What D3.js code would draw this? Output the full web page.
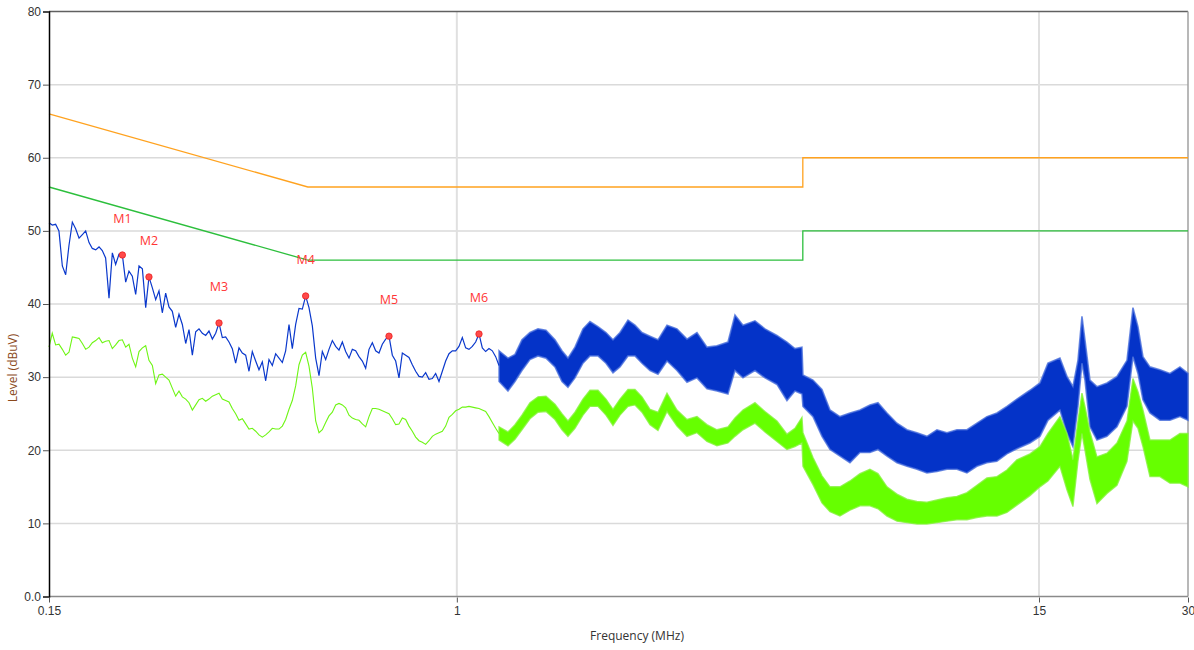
<!DOCTYPE html>
<html>
<head>
<meta charset="utf-8">
<script src="https://cdn.jsdelivr.net/npm/d3@7"></script>
<style>
  body { margin: 0; background: #fff; }
  svg { display: block; font-family: "Open Sans", "Noto Sans", sans-serif; }
</style>
</head>
<body>
<div id="chart"></div>
<script>
const width = 1194
const height = 650
const margin = { top: 11.5, right: 6, bottom: 53.5, left: 49 }

// ---- data ----
// low band sweep points, MHz
const freqLow = [
  0.1500, 0.1523, 0.1547, 0.1571, 0.1596, 0.1621, 0.1646, 0.1672, 0.1698, 0.1725,
  0.1752, 0.1779, 0.1807, 0.1835, 0.1864, 0.1893, 0.1922, 0.1952, 0.1983, 0.2014,
  0.2045, 0.2077, 0.2110, 0.2143, 0.2176, 0.2210, 0.2245, 0.2280, 0.2316, 0.2352,
  0.2388, 0.2426, 0.2464, 0.2502, 0.2541, 0.2581, 0.2621, 0.2662, 0.2704, 0.2746,
  0.2789, 0.2833, 0.2877, 0.2922, 0.2968, 0.3014, 0.3061, 0.3109, 0.3157, 0.3207,
  0.3257, 0.3308, 0.3359, 0.3412, 0.3465, 0.3519, 0.3574, 0.3630, 0.3687, 0.3745,
  0.3803, 0.3862, 0.3923, 0.3984, 0.4046, 0.4110, 0.4174, 0.4239, 0.4305, 0.4373,
  0.4441, 0.4510, 0.4581, 0.4652, 0.4725, 0.4799, 0.4874, 0.4950, 0.5027, 0.5106,
  0.5186, 0.5267, 0.5349, 0.5433, 0.5517, 0.5604, 0.5691, 0.5780, 0.5871, 0.5962,
  0.6056, 0.6150, 0.6246, 0.6344, 0.6443, 0.6544, 0.6646, 0.6750, 0.6855, 0.6962,
  0.7071, 0.7182, 0.7294, 0.7408, 0.7524, 0.7641, 0.7761, 0.7882, 0.8005, 0.8130,
  0.8257, 0.8386, 0.8517, 0.8650, 0.8785, 0.8923, 0.9062, 0.9204, 0.9348, 0.9494,
  0.9642, 0.9793, 0.9946, 1.0101, 1.0259, 1.0419, 1.0582, 1.0747, 1.0915, 1.1086,
  1.1259, 1.1435, 1.1614, 1.1795, 1.1980, 1.2167
]
// peak trace (blue), dBuV
const blueLow = [
  51.1, 50.8, 50.9, 50.0, 45.2, 44.0, 48.0, 51.2, 50.3, 49.0,
  49.5, 50.0, 48.4, 47.6, 47.4, 47.8, 47.3, 46.3, 40.8, 47.0,
  45.4, 46.8, 46.7, 43.0, 44.5, 43.8, 41.3, 45.2, 44.8, 39.5,
  43.7, 42.2, 40.6, 41.8, 38.8, 41.5, 39.6, 39.0, 36.8, 38.6,
  37.2, 34.6, 36.5, 33.0, 36.2, 36.6, 36.0, 35.7, 36.3, 35.2,
  36.0, 37.4, 35.4, 35.5, 34.8, 33.9, 31.9, 34.0, 33.3, 33.0,
  30.8, 33.5, 32.2, 31.0, 32.1, 29.5, 32.4, 31.6, 33.2, 32.6,
  32.0, 33.6, 37.2, 33.9, 37.2, 39.4, 39.3, 41.1, 39.5, 37.0,
  32.6, 30.2, 33.5, 32.4, 33.8, 35.0, 34.2, 33.7, 34.8, 33.5,
  32.6, 33.8, 33.6, 32.8, 32.2, 31.2, 33.8, 34.7, 33.6, 33.3,
  34.5, 35.2, 35.6, 33.0, 32.2, 29.9, 33.3, 33.0, 32.7, 31.7,
  30.8, 30.1, 30.0, 30.6, 29.7, 29.8, 30.5, 29.4, 30.8, 32.2,
  33.2, 33.6, 33.6, 34.2, 35.4, 34.0, 33.8, 34.2, 34.8, 35.9,
  34.0, 33.5, 33.9, 33.6, 32.8, 31.6
]
// average trace (green), dBuV
const greenLow = [
  34.1, 36.0, 34.4, 34.5, 33.8, 33.0, 33.4, 35.5, 35.4, 35.3,
  34.6, 33.8, 34.1, 34.7, 35.0, 35.4, 34.7, 34.9, 35.0, 33.9,
  34.4, 35.0, 35.1, 34.1, 34.5, 32.6, 31.4, 33.5, 34.0, 34.3,
  32.3, 31.6, 29.1, 30.3, 30.4, 30.0, 29.6, 28.5, 27.4, 28.1,
  27.3, 27.0, 26.5, 25.5, 26.2, 26.9, 27.1, 26.7, 27.0, 27.4,
  27.6, 27.8, 27.0, 26.8, 26.6, 25.7, 25.0, 24.1, 24.3, 23.6,
  22.9, 23.0, 22.6, 22.1, 21.8, 22.1, 22.5, 23.0, 22.9, 22.9,
  23.3, 24.2, 25.6, 26.8, 28.8, 31.7, 33.0, 33.4, 31.5, 28.5,
  24.0, 22.4, 22.8, 23.8, 24.7, 25.2, 26.2, 26.4, 26.2, 25.8,
  24.8, 24.4, 24.2, 24.1, 23.6, 23.2, 24.6, 25.7, 25.7, 25.6,
  25.4, 25.2, 25.0, 24.3, 23.5, 23.6, 24.4, 24.2, 23.3, 22.6,
  21.8, 21.3, 21.1, 20.8, 21.3, 21.9, 22.2, 22.4, 22.6, 23.3,
  24.5, 24.9, 25.4, 25.6, 25.9, 25.9, 26.0, 25.9, 25.8, 25.7,
  25.5, 25.3, 24.6, 23.8, 23.0, 22.3
]

// upper band: noise envelope per sweep point (min / max)
const freqBand = [
  1.217, 1.2685, 1.3105, 1.3538, 1.4052, 1.4586, 1.5139, 1.5786, 1.6308, 1.6769,
  1.7325, 1.7981, 1.8578, 1.9282, 2.0013, 2.0676, 2.1361, 2.2170, 2.2904, 2.3662,
  2.4561, 2.5492, 2.6581, 2.7846, 2.9171, 3.0559, 3.2013, 3.3536, 3.5298, 3.6467,
  3.7851, 4.0023, 4.1928, 4.4335, 4.6445, 4.8205, 4.9801, 5.0034, 5.2423, 5.4660,
  5.6738, 5.9429, 6.2257, 6.5219, 6.8322, 7.0929, 7.3960, 7.7479, 8.1166, 8.5028,
  8.9074, 9.3312, 9.7753, 10.240, 10.728, 11.238, 11.773, 12.333, 12.920, 13.535,
  14.381, 15.066, 15.637, 16.535, 17.083, 17.566, 17.981, 18.319, 18.576, 19.013,
  19.642, 20.578, 21.558, 22.584, 23.223, 23.769, 24.328, 25.133, 26.329, 27.582,
  28.895, 30.0
]
const blueHi = [
  33.6, 32.6, 33.1, 35.1, 36.1, 36.6, 36.4, 35.1, 33.6, 32.6,
  34.1, 36.6, 37.6, 36.9, 36.1, 35.1, 36.1, 37.8, 37.1, 36.1,
  35.6, 35.1, 37.1, 36.6, 35.2, 36.1, 34.1, 34.3, 34.8, 38.5,
  37.1, 37.7, 36.6, 35.7, 34.8, 33.9, 34.1, 30.3, 29.6, 28.3,
  25.5, 24.6, 25.1, 25.5, 26.2, 26.5, 25.1, 23.7, 22.8, 22.4,
  21.9, 22.8, 22.4, 22.8, 22.8, 23.7, 24.6, 25.1, 26, 27,
  28.2, 29.2, 31.9, 32.6, 30.1, 28.7, 32.3, 38.3, 35.1, 29.6,
  28.7, 29.2, 30.1, 32.3, 39.5, 36.9, 32.8, 31.4, 31, 30.5,
  31.4, 30.5
]
const blueLo = [
  29.4, 28.1, 29.4, 30.9, 32.4, 32.9, 32.6, 31.4, 29.4, 28.6,
  29.9, 31.9, 32.9, 32.9, 31.9, 30.6, 31.4, 32.9, 32.9, 31.9,
  30.9, 30.4, 32.2, 30.9, 29.3, 29.9, 28.4, 28.1, 27.7, 30.9,
  29.9, 30.9, 29.9, 29.0, 26.8, 28.1, 27.7, 26, 24.6, 21.9,
  20.1, 19.2, 18.3, 19.7, 19.7, 20.1, 19.2, 18.3, 17.8, 17.4,
  16.9, 17.1, 17.4, 17.4, 16.9, 17.8, 18.3, 18.5, 19.5, 20.2,
  21, 21.9, 24.1, 25.5, 22.3, 20.5, 26, 31.9, 29.6, 23.2,
  21.4, 21.9, 23.2, 26, 32.8, 30.5, 26.9, 25.1, 24.1, 24.1,
  24.6, 24.1
]
const greenHi = [
  23.2, 22.5, 23.5, 24.8, 26.5, 27.3, 27.4, 26.3, 25, 24,
  25.2, 27, 28.2, 28.2, 27, 25.6, 27, 28.3, 28.3, 27.3,
  25.6, 25.2, 27.8, 25.5, 24.2, 24.6, 23.5, 22.8, 23.2, 24.4,
  25.5, 26.5, 25.3, 24, 22.2, 23, 24.5, 22.4, 19, 16.5,
  15, 15, 15.8, 16.8, 17.4, 16.8, 15, 14, 13.3, 13,
  12.9, 13.2, 13.5, 13.7, 14.2, 15.2, 16.2, 16.4, 17.3, 18.7,
  19.5, 20.5, 22.3, 24.6, 22.3, 18.7, 24, 27.8, 26, 22.5,
  19.1, 19.6, 21, 24, 29.8, 28, 25.5, 21.4, 21.4, 21.4,
  22.3, 22.3
]
const greenLo = [
  21.4, 20.6, 21.5, 22.8, 24.3, 25.2, 25.3, 24.2, 22.8, 21.9,
  23, 24.8, 26, 26, 24.8, 23.4, 24.8, 26, 26.2, 25.2,
  23.5, 22.7, 25.3, 23.3, 21.9, 22.4, 21.2, 20.6, 21, 21.9,
  22.8, 23.7, 22.5, 21.2, 20.1, 20.5, 21, 17.8, 15.3, 12.8,
  11.6, 11, 11.8, 12.4, 12.4, 12, 11, 10.3, 10.1, 9.9,
  9.9, 10.1, 10.3, 10.5, 10.5, 10.8, 11, 11, 11.5, 12.5,
  13.8, 15, 15.8, 17.8, 14.6, 12.3, 18.5, 22.3, 20, 16,
  12.7, 14.1, 15.2, 18.5, 24, 23, 20.5, 16.4, 16.4, 15.5,
  15.5, 15
]

// limit lines (QP orange, AV green)
const limitFreq = [0.15, 0.5, 5, 5, 30]
const limitQP = [66, 56, 56, 60, 60]
const limitAV = [56, 46, 46, 50, 50]

// markers
const markerNames = ["M1", "M2", "M3", "M4", "M5", "M6"]
const markerFreq = [0.2110, 0.2388, 0.3308, 0.4950, 0.7294, 1.1086]
const markerLevel = [46.7, 43.7, 37.4, 41.1, 35.6, 35.9]

const xTicks = [0.15, 1, 15, 30]
const yTicks = [0, 10, 20, 30, 40, 50, 60, 70, 80]

// ---- svg ----
const svg = d3.select("#chart").append("svg")
  .attr("width", width)
  .attr("height", height)

const x = d3.scaleLog().domain([0.15, 30]).range([margin.left, width - margin.right])
const y = d3.scaleLinear().domain([0, 80]).range([height - margin.bottom, margin.top])

// grid
svg.append("g").selectAll("line").data(yTicks.filter(d => d > 0 && d < 80))
  .enter().append("line")
    .attr("x1", x(0.15)).attr("x2", x(30))
    .attr("y1", d => y(d)).attr("y2", d => y(d))
    .attr("stroke", "#dadada").attr("stroke-width", 1.5)

svg.append("g").selectAll("line").data([1, 15])
  .enter().append("line")
    .attr("x1", d => x(d)).attr("x2", d => x(d))
    .attr("y1", y(80)).attr("y2", y(0))
    .attr("stroke", "#e0e0e0").attr("stroke-width", 2)

// frame
svg.append("line").attr("x1", x(0.15)).attr("x2", x(30)).attr("y1", y(80)).attr("y2", y(80))
  .attr("stroke", "#606060").attr("stroke-width", 1.5)
svg.append("line").attr("x1", x(30)).attr("x2", x(30)).attr("y1", y(80)).attr("y2", y(0))
  .attr("stroke", "#a0a0a0").attr("stroke-width", 1.5)
svg.append("line").attr("x1", x(0.15)).attr("x2", x(30)).attr("y1", y(0)).attr("y2", y(0))
  .attr("stroke", "#8a8a8a").attr("stroke-width", 1.5)

// traces
const plot = svg.append("g")
const lowBlue = freqLow.map((f, i) => ({ f, v: blueLow[i] }))
const lowGreen = freqLow.map((f, i) => ({ f, v: greenLow[i] }))
const bandBlue = freqBand.map((f, i) => ({ f, lo: blueLo[i], hi: blueHi[i] }))
const bandGreen = freqBand.map((f, i) => ({ f, lo: greenLo[i], hi: greenHi[i] }))

const line = d3.line().x(d => x(d.f)).y(d => y(d.v))
const area = d3.area().x(d => x(d.f)).y0(d => y(d.lo)).y1(d => y(d.hi))

plot.append("path").datum(bandBlue).attr("d", area)
  .attr("fill", "#0433c8").attr("stroke", "#4a6fdc").attr("stroke-opacity", 0.8).attr("stroke-width", 1.6)
plot.append("path").datum(lowBlue).attr("d", line)
  .attr("fill", "none").attr("stroke", "#0a38cc").attr("stroke-width", 1.2)

plot.append("path").datum(bandGreen).attr("d", area)
  .attr("fill", "#66ff00").attr("stroke", "#86f23c").attr("stroke-opacity", 0.8).attr("stroke-width", 1.4)
plot.append("path").datum(lowGreen).attr("d", line)
  .attr("fill", "none").attr("stroke", "#6ef514").attr("stroke-width", 1.1)

// limits
const limLine = d3.line().x(d => x(d.f)).y(d => y(d.v))
plot.append("path").datum(limitFreq.map((f, i) => ({ f, v: limitQP[i] })))
  .attr("d", limLine).attr("fill", "none").attr("stroke", "#ffa21f").attr("stroke-width", 1.3)
plot.append("path").datum(limitFreq.map((f, i) => ({ f, v: limitAV[i] })))
  .attr("d", limLine).attr("fill", "none").attr("stroke", "#2cbf3c").attr("stroke-width", 1.3)

// markers
const mk = svg.append("g").selectAll("g").data(markerNames)
  .enter().append("g")
mk.append("circle")
  .attr("cx", (d, i) => x(markerFreq[i]))
  .attr("cy", (d, i) => y(markerLevel[i]))
  .attr("r", 3.2)
  .attr("fill", "#ff4a4a").attr("stroke", "#e82020").attr("stroke-width", 0.8)
mk.append("text")
  .attr("x", (d, i) => x(markerFreq[i]))
  .attr("y", (d, i) => y(markerLevel[i] + 5))
  .attr("text-anchor", "middle")
  .attr("dy", "0.35em")
  .attr("fill", "#ff3535")
  .attr("font-size", 12.5)
  .text(d => d)

// axes
const yAxis = d3.axisLeft(y).tickValues(yTicks).tickSize(6)
  .tickFormat(d => d === 0 ? "0.0" : d)
const yAxisGroup = svg.append("g").attr("transform", `translate(${margin.left}, 0)`).call(yAxis)
yAxisGroup.select(".domain").attr("stroke", "#000").attr("stroke-width", 1.5)
yAxisGroup.selectAll(".tick line").attr("stroke", "#555")
yAxisGroup.selectAll(".tick text").attr("fill", "#333").attr("font-size", 12).attr("x", -8)

const xAxis = d3.axisBottom(x).tickValues(xTicks).tickSize(5).tickFormat(d => String(d))
const xAxisGroup = svg.append("g").attr("transform", `translate(0, ${y(0) + 1})`).call(xAxis)
xAxisGroup.select(".domain").remove()
xAxisGroup.selectAll(".tick line").attr("stroke", "#555")
xAxisGroup.selectAll(".tick text").attr("fill", "#333").attr("font-size", 12).attr("y", 9)

// axis titles
svg.append("text")
  .attr("x", 637).attr("y", 640)
  .attr("text-anchor", "middle")
  .attr("font-size", 12).attr("fill", "#333")
  .text("Frequency (MHz)")

svg.append("text")
  .attr("transform", "translate(17, 368) rotate(-90)")
  .attr("text-anchor", "middle")
  .attr("font-size", 12).attr("fill", "#8b4a1c")
  .text("Level (dBuV)")
</script>
</body>
</html>
